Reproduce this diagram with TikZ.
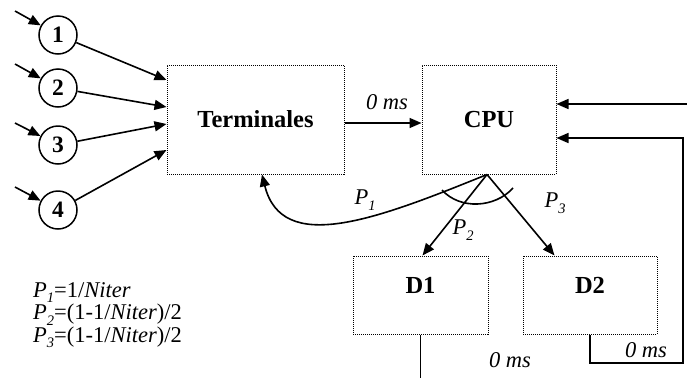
\documentclass[tikz,border=0pt]{standalone}
\usepackage{fontspec}
\setmainfont{Liberation Serif}
\usetikzlibrary{arrows.meta}
\newcommand\mysub[1]{\raisebox{-0.25em}{\fontsize{14.5}{14.5}\selectfont\itshape #1}}
\newcommand\Pl[1]{\textit{P}\mysub{#1}}
\begin{document}
\begin{tikzpicture}[x=1pt,y=-1pt,
  box/.style={draw, line width=1pt, dash pattern=on 1pt off 1pt, inner sep=0pt},
  bl/.style={font=\fontsize{24.5}{28}\selectfont\bfseries, inner sep=0pt},
  circ/.style={circle, draw, line width=1.5pt, minimum size=38pt, inner sep=0pt, font=\fontsize{23.5}{26}\selectfont\bfseries},
  itl/.style={font=\fontsize{22.5}{26}\selectfont\itshape, inner sep=0pt},
  ln/.style={line width=1.6pt},
  arr/.style={ln, -{Triangle[length=12pt,width=10pt]}}]
\useasboundingbox (0,0) rectangle (687,378);
% boxes
\node[box, bl, minimum width=177pt, minimum height=109pt] (term) at (255.5,119.5) {Terminales};
\node[box, bl, minimum width=134pt, minimum height=109pt] (cpu) at (489,119.5) {CPU};
\node[box, minimum width=135pt, minimum height=78pt] (d1) at (420.5,295) {};
\node[bl] (d1l) at (420.5,285) {D1};
\node[box, minimum width=134pt, minimum height=78pt] (d2) at (590,295) {};
\node[bl] (d2l) at (590,285) {D2};
% circles
\node[circ] (c1) at (58,35) {1};
\node[circ] (c2) at (58,88) {2};
\node[circ] (c3) at (58,145) {3};
\node[circ] (c4) at (58,210) {4};
\coordinate (i1) at (15,11);
\coordinate (i2) at (15,64);
\coordinate (i3) at (15,123);
\coordinate (i4) at (15,187);
\draw[arr] (i1) -- (c1);
\draw[arr] (i2) -- (c2);
\draw[arr] (i3) -- (c3);
\draw[arr] (i4) -- (c4);
\draw[arr] (c1) -- (term.west |- 0,80);
\draw[arr] (c2) -- (term.west |- 0,107);
\draw[arr] (c3) -- (term.west |- 0,124);
\draw[arr] (c4) -- (term.west |- 0,150);
% terminales -> cpu
\draw[arr] (term.east |- 0,123) -- (cpu.west |- 0,123);
\node[itl] (l0a) at (387,102) {0 ms};
% right input
\coordinate (rin) at (687,104);
\draw[arr] (rin) -- (cpu.east |- 0,104);
% D2 loop
\coordinate (rb) at (683,363);
\draw[arr] (d2.south) |- (rb) |- (cpu.east |- 0,138);
\node[itl] (l0c) at (646,350) {0 ms};
% D1 out
\coordinate (d1o) at (d1.south |- 0,378);
\draw[ln] (d1.south) -- (d1o);
\node[itl] (l0b) at (510,360) {0 ms};
% split from CPU
\coordinate (sp) at ([xshift=-2pt]cpu.south);
\draw[arr] (sp) .. controls (375,220) and (282,255) .. (term.south -| 262,0);
\draw[arr] (sp) -- ([xshift=2pt]d1.north);
\draw[arr] (sp) -- ([xshift=32pt]d2.north west);
\coordinate (a1) at (442,190);
\coordinate (a2) at (513,188);
\draw[ln] (a1) .. controls (460,210) and (495,208) .. (a2);
\node[itl] (p1) at (365,200) {\Pl{1}};
\node[itl] (p2) at (463,230) {\Pl{2}};
\node[itl] (p3) at (555,203) {\Pl{3}};
% formulas
\node[anchor=west, align=left, inner sep=0pt, font=\fontsize{22.5}{22.5}\selectfont] (form) at (33,315)
  {\Pl{1}=1/\textit{Niter}\\ \Pl{2}=(1-1/\textit{Niter})/2\\ \Pl{3}=(1-1/\textit{Niter})/2};
\end{tikzpicture}
\end{document}
